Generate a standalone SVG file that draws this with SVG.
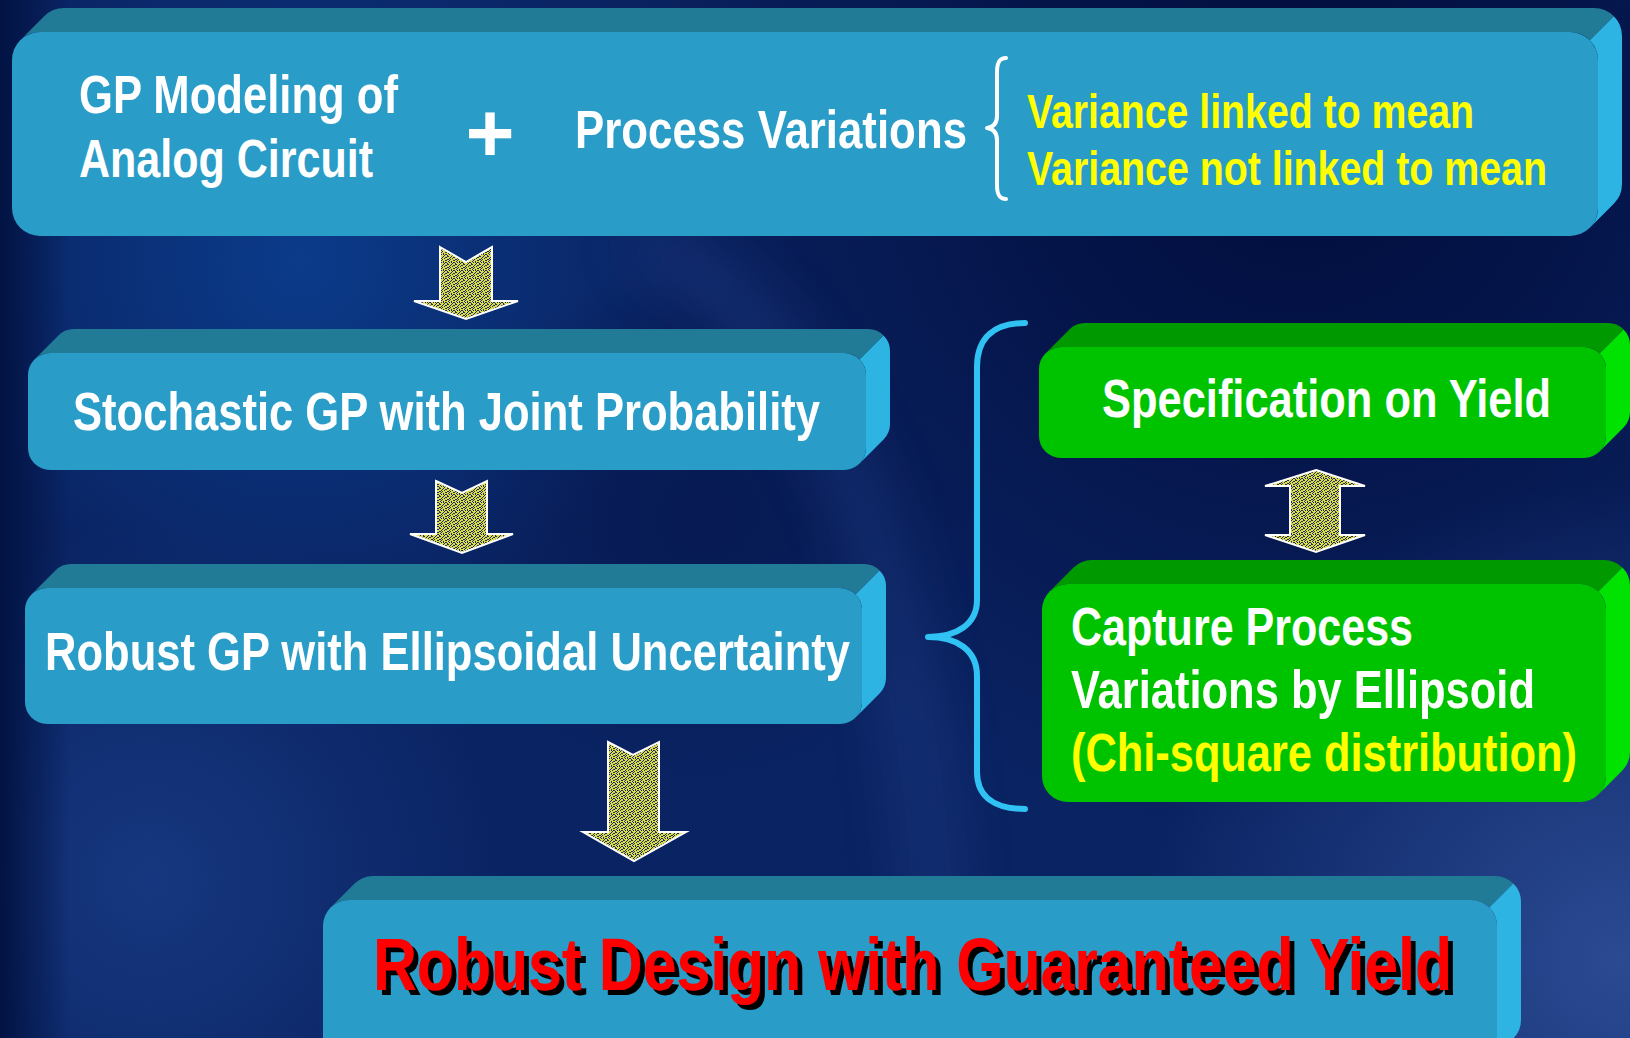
<svg xmlns="http://www.w3.org/2000/svg" width="1630" height="1038" viewBox="0 0 1630 1038">
<style>
.txt{font-family:"Liberation Sans Narrow","Arial Narrow","Liberation Sans",Arial,sans-serif;font-weight:bold;font-size:53px}
.sm{font-size:48px}
.w{fill:#ffffff}
.y{fill:#ffff00}
.bfront{fill:#299dc7}
.btop{fill:#217b97}
.bright{fill:#2eb4e2}
.gfront{fill:#00c300}
.gtop{fill:#009a00}
.gright{fill:#00e300}
.arrow{fill:url(#speck);stroke:#ffffff;stroke-width:2;stroke-linejoin:miter}
.brace{fill:none;stroke-linecap:round;stroke-linejoin:round}
</style>
<defs>
<pattern id="speck" width="8" height="8" patternUnits="userSpaceOnUse">
<rect width="8" height="8" fill="#dcdc44"/>
<g fill="#1c2a6e">
<rect x="0" y="0" width="1" height="1"/><rect x="3" y="0" width="1" height="1"/><rect x="7" y="0" width="1" height="1"/>
<rect x="2" y="1" width="1" height="1"/><rect x="5" y="1" width="2" height="1"/>
<rect x="1" y="2" width="1" height="1"/><rect x="4" y="2" width="1" height="1"/>
<rect x="0" y="3" width="1" height="1"/><rect x="2" y="3" width="1" height="1"/><rect x="7" y="3" width="1" height="1"/>
<rect x="1" y="4" width="1" height="1"/><rect x="5" y="4" width="2" height="1"/>
<rect x="0" y="5" width="1" height="1"/><rect x="3" y="5" width="1" height="1"/>
<rect x="1" y="6" width="1" height="1"/><rect x="3" y="6" width="1" height="1"/><rect x="5" y="6" width="1" height="1"/><rect x="6" y="6" width="1" height="1"/>
<rect x="4" y="7" width="1" height="1"/><rect x="7" y="7" width="1" height="1"/>
</g>
</pattern>
<radialGradient id="g1" cx="300" cy="260" r="380" gradientUnits="userSpaceOnUse"><stop offset="0" stop-color="#0b3c8c" stop-opacity="0.95"/><stop offset="1" stop-color="#0b3c8c" stop-opacity="0"/></radialGradient>
<radialGradient id="g2" cx="1300" cy="120" r="720" gradientUnits="userSpaceOnUse"><stop offset="0" stop-color="#000a38" stop-opacity="0.95"/><stop offset="1" stop-color="#000a38" stop-opacity="0"/></radialGradient>
<radialGradient id="g3" cx="1620" cy="960" r="480" gradientUnits="userSpaceOnUse"><stop offset="0" stop-color="#2b4a92"/><stop offset="1" stop-color="#2b4a92" stop-opacity="0"/></radialGradient>
<radialGradient id="g4" cx="150" cy="880" r="360" gradientUnits="userSpaceOnUse"><stop offset="0" stop-color="#16377f"/><stop offset="1" stop-color="#16377f" stop-opacity="0"/></radialGradient>
<radialGradient id="g5" cx="700" cy="520" r="260" gradientUnits="userSpaceOnUse"><stop offset="0" stop-color="#061850" stop-opacity="0.9"/><stop offset="1" stop-color="#061850" stop-opacity="0"/></radialGradient>
<linearGradient id="g6" x1="0" y1="0" x2="70" y2="0" gradientUnits="userSpaceOnUse"><stop offset="0" stop-color="#021343"/><stop offset="1" stop-color="#021343" stop-opacity="0"/></linearGradient>
<filter id="blur" x="-50%" y="-50%" width="200%" height="200%"><feGaussianBlur stdDeviation="30"/></filter>
<filter id="shadow" x="-5%" y="-20%" width="110%" height="140%">
<feOffset in="SourceAlpha" dx="5" dy="5" result="off"/>
<feFlood flood-color="#000000"/>
<feComposite in2="off" operator="in" result="sh"/>
<feMerge><feMergeNode in="sh"/><feMergeNode in="SourceGraphic"/></feMerge>
</filter>
</defs>

<g id="background">
<rect width="1630" height="1038" fill="#0a2362"/>
<rect width="1630" height="1038" fill="url(#g2)"/>
<rect width="1630" height="1038" fill="url(#g1)"/>
<rect width="1630" height="1038" fill="url(#g3)"/>
<rect width="1630" height="1038" fill="url(#g4)"/>
<rect width="1630" height="1038" fill="url(#g5)"/>
<rect width="1630" height="1038" fill="url(#g6)"/>
<path d="M640,240 C860,340 920,620 940,1000" fill="none" stroke="#2a4c9a" stroke-width="40" opacity="0.45" filter="url(#blur)"/>
</g>

<g id="node-gp-modeling">
<path class="btop" d="M20.2,40.2 L44.2,16.2 A28 28 0 0 1 64,8 L1594,8 A28 28 0 0 1 1613.8,16.2 L1589.8,40.2 A28 28 0 0 0 1570,32 L40,32 A28 28 0 0 0 20.2,40.2 Z"/>
<path class="bright" d="M1589.8,40.2 L1613.8,16.2 A28 28 0 0 1 1622,36 L1622,184 A28 28 0 0 1 1613.8,203.8 L1589.8,227.8 A28 28 0 0 0 1598,208 L1598,60 A28 28 0 0 0 1589.8,40.2 Z"/>
<rect class="bfront" x="12" y="32" width="1586" height="204" rx="28"/>
<text class="txt w" x="79" y="113" textLength="319" lengthAdjust="spacingAndGlyphs">GP Modeling of</text>
<text class="txt w" x="79" y="177" textLength="294" lengthAdjust="spacingAndGlyphs">Analog Circuit</text>
<text class="txt w" x="490" y="162" text-anchor="middle" style="font-family:'Liberation Sans',Arial,sans-serif;font-size:84px">+</text>
<text class="txt w" x="575" y="148" textLength="392" lengthAdjust="spacingAndGlyphs">Process Variations</text>
<path class="brace" stroke="#ffffff" stroke-width="4" d="M1006,58 C999,58 997,63 997,72 L997,116 C997,123 994,127 987,128 C994,129 997,133 997,140 L997,185 C997,194 999,199 1006,199"/>
<text class="txt sm y" x="1027" y="128" textLength="447" lengthAdjust="spacingAndGlyphs">Variance linked to mean</text>
<text class="txt sm y" x="1027" y="185" textLength="520" lengthAdjust="spacingAndGlyphs">Variance not linked to mean</text>
</g>

<g id="node-stochastic">
<path class="btop" d="M34.44,359.44 L58.44,335.44 A22 22 0 0 1 74,329 L868,329 A22 22 0 0 1 883.56,335.44 L859.56,359.44 A22 22 0 0 0 844,353 L50,353 A22 22 0 0 0 34.44,359.44 Z"/>
<path class="bright" d="M859.56,359.44 L883.56,335.44 A22 22 0 0 1 890,351 L890,424 A22 22 0 0 1 883.56,439.56 L859.56,463.56 A22 22 0 0 0 866,448 L866,375 A22 22 0 0 0 859.56,359.44 Z"/>
<rect class="bfront" x="28" y="353" width="838" height="117" rx="22"/>
<text class="txt w" x="73" y="430" textLength="747" lengthAdjust="spacingAndGlyphs">Stochastic GP with Joint Probability</text>
</g>

<g id="node-robust-gp">
<path class="btop" d="M31.44,594.44 L55.44,570.44 A22 22 0 0 1 71,564 L864,564 A22 22 0 0 1 879.56,570.44 L855.56,594.44 A22 22 0 0 0 840,588 L47,588 A22 22 0 0 0 31.44,594.44 Z"/>
<path class="bright" d="M855.56,594.44 L879.56,570.44 A22 22 0 0 1 886,586 L886,678 A22 22 0 0 1 879.56,693.56 L855.56,717.56 A22 22 0 0 0 862,702 L862,610 A22 22 0 0 0 855.56,594.44 Z"/>
<rect class="bfront" x="25" y="588" width="837" height="136" rx="22"/>
<text class="txt w" x="45" y="670" textLength="805" lengthAdjust="spacingAndGlyphs">Robust GP with Ellipsoidal Uncertainty</text>
</g>

<g id="node-spec-yield">
<path class="gtop" d="M1045.44,353.44 L1069.44,329.44 A22 22 0 0 1 1085,323 L1608,323 A22 22 0 0 1 1623.56,329.44 L1599.56,353.44 A22 22 0 0 0 1584,347 L1061,347 A22 22 0 0 0 1045.44,353.44 Z"/>
<path class="gright" d="M1599.56,353.44 L1623.56,329.44 A22 22 0 0 1 1630,345 L1630,412 A22 22 0 0 1 1623.56,427.56 L1599.56,451.56 A22 22 0 0 0 1606,436 L1606,369 A22 22 0 0 0 1599.56,353.44 Z"/>
<rect class="gfront" x="1039" y="347" width="567" height="111" rx="22"/>
<text class="txt w" x="1102" y="417" textLength="449" lengthAdjust="spacingAndGlyphs">Specification on Yield</text>
</g>

<g id="node-capture">
<path class="gtop" d="M1049.62,591.62 L1073.62,567.62 A26 26 0 0 1 1092,560 L1604,560 A26 26 0 0 1 1622.38,567.62 L1598.38,591.62 A26 26 0 0 0 1580,584 L1068,584 A26 26 0 0 0 1049.62,591.62 Z"/>
<path class="gright" d="M1598.38,591.62 L1622.38,567.62 A26 26 0 0 1 1630,586 L1630,752 A26 26 0 0 1 1622.38,770.38 L1598.38,794.38 A26 26 0 0 0 1606,776 L1606,610 A26 26 0 0 0 1598.38,591.62 Z"/>
<rect class="gfront" x="1042" y="584" width="564" height="218" rx="26"/>
<text class="txt w" x="1071" y="645" textLength="342" lengthAdjust="spacingAndGlyphs">Capture Process</text>
<text class="txt w" x="1071" y="708" textLength="464" lengthAdjust="spacingAndGlyphs">Variations by Ellipsoid</text>
<text class="txt y" x="1071" y="771" textLength="506" lengthAdjust="spacingAndGlyphs">(Chi-square distribution)</text>
</g>

<g id="node-robust-design">
<path class="btop" d="M330.62,907.62 L354.62,883.62 A26 26 0 0 1 373,876 L1495,876 A26 26 0 0 1 1513.38,883.62 L1489.38,907.62 A26 26 0 0 0 1471,900 L349,900 A26 26 0 0 0 330.62,907.62 Z"/>
<path class="bright" d="M1489.38,907.62 L1513.38,883.62 A26 26 0 0 1 1521,902 L1521,1020 A26 26 0 0 1 1513.38,1038.38 L1489.38,1062.38 A26 26 0 0 0 1497,1044 L1497,926 A26 26 0 0 0 1489.38,907.62 Z"/>
<rect class="bfront" x="323" y="900" width="1174" height="170" rx="26"/>
<text class="txt" x="373" y="990" textLength="1079" lengthAdjust="spacingAndGlyphs" style="font-size:74px" fill="#ff0000" filter="url(#shadow)">Robust Design with Guaranteed Yield</text>
</g>

<g id="connectors">
<path class="arrow" d="M440,247 L466,262 L492,247 L492,301 L518,301 L466,319 L414,301 L440,301 Z"/>
<path class="arrow" d="M436,481 L462,493 L487,481 L487,534 L513,534 L462,553 L410,534 L436,534 Z"/>
<path class="arrow" d="M608,742 L633,755 L659,742 L659,832 L686,832 L634,861 L583,832 L608,832 Z"/>
<path class="arrow" d="M1316,470 L1365,486 L1340,486 L1340,535 L1365,535 L1316,552 L1265,535 L1290,535 L1290,486 L1265,486 Z"/>
<path class="brace" stroke="#2fc2f3" stroke-width="6" d="M1025,323 C995,323 977,337 977,367 L977,600 C977,624 957,637 928,637 C957,637 977,650 977,676 L977,772 C977,797 995,809 1025,809"/>
</g>
</svg>
